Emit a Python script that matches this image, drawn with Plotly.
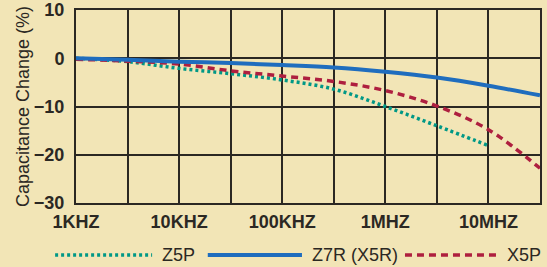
import plotly.graph_objects as go

# Frequencies (Hz) at half-decade grid positions
freq = [1e3, 3.16e3, 1e4, 3.16e4, 1e5, 3.16e5, 1e6, 3.16e6, 1e7, 3.16e7]
z5p = [0.0, -0.7, -2.1, -3.2, -4.5, -6.4, -10.0, -14.0, -18.1]
z7r = [0.0, -0.3, -0.7, -1.0, -1.4, -1.9, -2.8, -4.0, -5.7, -7.7]
x5p = [-0.2, -0.6, -1.2, -2.6, -3.7, -4.8, -6.7, -9.9, -14.8, -22.8]

x_tickvals = freq
x_ticktext = ["1KHZ", "", "10KHZ", "", "100KHZ", "", "1MHZ", "", "10MHZ", ""]
y_tickvals = [10, 0, -10, -20, -30]
legend_names = ["Z5P", "Z7R (X5R)", "X5P"]

bg = "#F2E5B6"
dark = "#2b2823"
green = "#009886"
blue = "#1F6DBE"
red = "#AE1F3F"
dot = "3px,3px"
dash = "7px,5px"

fig = go.Figure()
fig.add_trace(go.Scatter(x=freq[:len(z5p)], y=z5p, mode="lines", name=legend_names[0],
                         line=dict(color=green, width=3.5, dash=dot, shape="spline")))
fig.add_trace(go.Scatter(x=freq, y=x5p, mode="lines", name=legend_names[2],
                         line=dict(color=red, width=3.5, dash=dash, shape="spline")))
fig.add_trace(go.Scatter(x=freq, y=z7r, mode="lines", name=legend_names[1],
                         line=dict(color=blue, width=4, shape="spline")))

fig.update_layout(
    width=547, height=267,
    margin=dict(l=76, r=7, t=10, b=64, autoexpand=False),
    paper_bgcolor=bg, plot_bgcolor=bg,
    showlegend=False,
    font=dict(family="Liberation Sans, Arial, sans-serif", color=dark),
)
fig.update_xaxes(type="log", range=[3, 7.5], tickvals=x_tickvals, ticktext=x_ticktext,
                 showgrid=True, gridcolor=dark, gridwidth=2, automargin=False,
                 showline=True, mirror=True, linecolor=dark, linewidth=2,
                 ticks="", ticklabelstandoff=1,
                 tickfont=dict(size=18, family="Liberation Sans, Arial", weight="bold", color=dark))
fig.update_yaxes(range=[-30, 10], tickvals=y_tickvals, showgrid=True, gridcolor=dark, gridwidth=2,
                 zeroline=False, automargin=False,
                 showline=True, mirror=True, linecolor=dark, linewidth=2, ticks="",
                 ticklabelstandoff=6,
                 tickfont=dict(size=18, family="Liberation Sans, Arial", weight="bold", color=dark),
                 title=dict(text="Capacitance Change (%)", standoff=0,
                            font=dict(size=18, family="Liberation Sans, Arial", color=dark)))

# Manual legend
ly = -0.27
items = [
    (-0.045, 0.164, 0.181, green, dot, 3.5, legend_names[0]),
    (0.284, 0.487, 0.504, blue, "solid", 4, legend_names[1]),
    (0.709, 0.914, 0.925, red, dash, 3.5, legend_names[2]),
]
for x0, x1, xt, c, d, w, t in items:
    fig.add_shape(type="line", xref="paper", yref="paper", x0=x0, x1=x1, y0=ly, y1=ly,
                  line=dict(color=c, width=w, dash=d))
    fig.add_annotation(xref="paper", yref="paper", x=xt, y=ly, text=t, showarrow=False,
                       xanchor="left", yanchor="middle",
                       font=dict(size=18, family="Liberation Sans, Arial", color=dark))

fig.write_html("out.html", config={"displayModeBar": False},
               post_script="document.body.style.margin='0';document.body.style.overflow='hidden';")
